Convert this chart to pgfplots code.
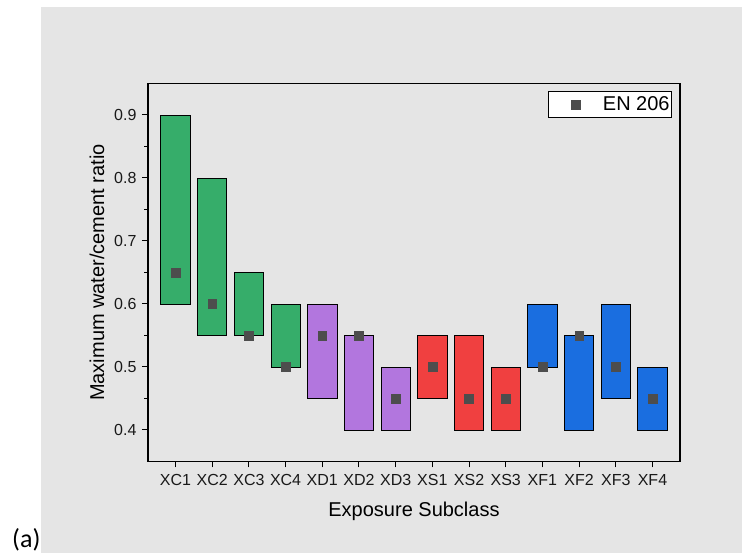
\documentclass[border=0pt]{standalone}
\usepackage{fontspec}
\setmainfont{Liberation Sans}
\newfontfamily\panelfont{Carlito}
\usepackage{pgfplots}
\usepgfplotslibrary{statistics}
\pgfplotsset{compat=1.18}

\definecolor{bggray}{HTML}{E5E5E5}
\definecolor{cgreen}{HTML}{36AD6A}
\definecolor{cpurple}{HTML}{B276DE}
\definecolor{cred}{HTML}{F04040}
\definecolor{cblue}{HTML}{1A6EE0}
\definecolor{mkgray}{HTML}{4D4D4D}

% a floating bar from #2 to #3 at category #1, filled with #4
\pgfplotsset{
  rng/.style n args={4}{
    forget plot,
    boxplot prepared={draw position=#1, lower whisker=#2, lower quartile=#2,
      median=#2, upper quartile=#3, upper whisker=#3, box extend=0.8},
    fill=#4, draw=black, line width=0.8pt},
}

\begin{document}
\begin{tikzpicture}
% page and panel background
\fill[white] (-148pt,-91.5pt) rectangle (594pt,461.5pt);
\fill[bggray] (-107pt,-91.5pt) rectangle (594pt,454.5pt);
\node[anchor=base west, inner sep=0pt, font=\panelfont\fontsize{26}{30}\selectfont]
  at (-136pt,-86.5pt) {(a)};

\begin{axis}[
  at={(0pt,0pt)}, anchor=south west,
  scale only axis, width=532pt, height=378pt,
  xmin=0.25, xmax=14.75, ymin=0.35, ymax=0.95,
  xtick={1,...,14},
  xticklabels={XC1,XC2,XC3,XC4,XD1,XD2,XD3,XS1,XS2,XS3,XF1,XF2,XF3,XF4},
  ytick={0.4,0.5,...,0.9},
  minor y tick num=1,
  tick pos=left, tick align=outside,
  major tick length=6pt, minor tick length=3.5pt,
  every tick/.style={black, line width=1pt},
  axis line style={black, line width=1.3pt},
  /pgf/number format/assume math mode=true,
  yticklabel style={/pgf/number format/fixed, /pgf/number format/precision=1,
    /pgf/number format/fixed zerofill},
  tick label style={font=\fontsize{16}{19}\selectfont, text=black!90},
  xticklabel style={yshift=-3pt},
  yticklabel style={xshift=-2pt},
  xlabel={Exposure Subclass},
  ylabel={Maximum water/cement ratio},
  label style={font=\fontsize{20}{24}\selectfont},
  xlabel style={at={(0.5,0)}, anchor=center, yshift=-50pt},
  ylabel style={at={(0,0.5)}, anchor=center, yshift=51pt},
  boxplot/draw direction=y,
  boxplot/draw/median/.code={},
  boxplot/draw/lower whisker/.code={},
  boxplot/draw/upper whisker/.code={},
  legend style={at={(0.985,0.979)}, anchor=north east, draw=black, fill=white,
    line width=0.8pt, font=\fontsize{20}{24}\selectfont,
    inner xsep=0pt, inner ysep=3pt},
  legend image code/.code={\path (0pt,0pt) (52pt,0pt);
    \draw[#1] plot coordinates {(27pt,0pt)};},
]
\addplot[rng={1}{0.60}{0.90}{cgreen}] coordinates {};
\addplot[rng={2}{0.55}{0.80}{cgreen}] coordinates {};
\addplot[rng={3}{0.55}{0.65}{cgreen}] coordinates {};
\addplot[rng={4}{0.50}{0.60}{cgreen}] coordinates {};
\addplot[rng={5}{0.45}{0.60}{cpurple}] coordinates {};
\addplot[rng={6}{0.40}{0.55}{cpurple}] coordinates {};
\addplot[rng={7}{0.40}{0.50}{cpurple}] coordinates {};
\addplot[rng={8}{0.45}{0.55}{cred}] coordinates {};
\addplot[rng={9}{0.40}{0.55}{cred}] coordinates {};
\addplot[rng={10}{0.40}{0.50}{cred}] coordinates {};
\addplot[rng={11}{0.50}{0.60}{cblue}] coordinates {};
\addplot[rng={12}{0.40}{0.55}{cblue}] coordinates {};
\addplot[rng={13}{0.45}{0.60}{cblue}] coordinates {};
\addplot[rng={14}{0.40}{0.50}{cblue}] coordinates {};

% EN 206 values
\addplot[only marks, mark=square*, mark size=4.4pt, mkgray] coordinates {
  (1,0.65) (2,0.60) (3,0.55) (4,0.50) (5,0.55) (6,0.55) (7,0.45)
  (8,0.50) (9,0.45) (10,0.45) (11,0.50) (12,0.55) (13,0.50) (14,0.45)};
\addlegendentry{EN 206}
\end{axis}
\end{tikzpicture}
\end{document}
